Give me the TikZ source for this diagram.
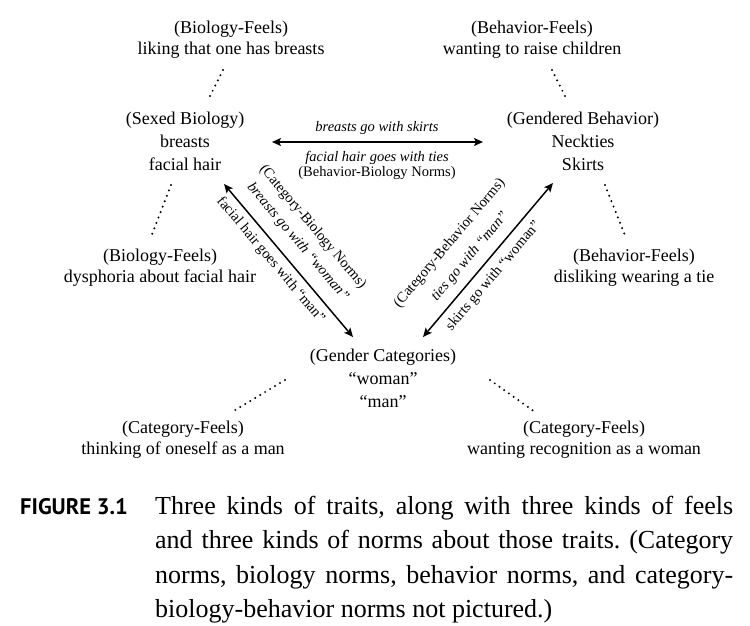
\documentclass[tikz,border=0pt]{standalone}
\usepackage{fontspec}
\setmainfont{Liberation Serif}
\newfontfamily\figfont{PT Sans}
\usetikzlibrary{arrows.meta}
\frenchspacing
\begin{document}
\begin{tikzpicture}[x=1pt,y=-1pt,
  trait/.style={align=center, font=\fontsize{18}{23}\selectfont, inner sep=0pt},
  feel/.style={align=center, font=\fontsize{18}{21}\selectfont, inner sep=0pt},
  lbl/.style={align=center, font=\fontsize{14.5}{15}\selectfont, inner sep=0pt},
  ilbl/.style={lbl, font=\fontsize{14.5}{15}\selectfont\itshape},
  norm/.style={line width=1.5pt, {Stealth[length=9pt,width=8pt,inset=2pt]}-{Stealth[length=9pt,width=8pt,inset=2pt]}},
  dots/.style={line width=2.2pt, line cap=round, dash pattern=on 0pt off 5.8pt}]
\useasboundingbox (0,0) rectangle (750,625);

% traits
\node[trait] (sb) at (185,141) {(Sexed Biology)\\breasts\\facial hair};
\node[trait] (gb) at (583,141) {(Gendered Behavior)\\Neckties\\Skirts};
\node[trait] (gc) at (383,378) {(Gender Categories)\\“woman”\\“man”};

% feels
\node[feel] (f1) at (231,40) {(Biology-Feels)\\liking that one has breasts};
\node[feel] (f2) at (532,40) {(Behavior-Feels)\\wanting to raise children};
\node[feel] (f3) at (160,268) {(Biology-Feels)\\dysphoria about facial hair};
\node[feel] (f4) at (634,268) {(Behavior-Feels)\\disliking wearing a tie};
\node[feel] (f5) at (183,440) {(Category-Feels)\\thinking of oneself as a man};
\node[feel] (f6) at (584,440) {(Category-Feels)\\wanting recognition as a woman};

% connector ends
\coordinate (sbR) at (272,142);
\coordinate (gbL) at (483,142);
\coordinate (sbD) at (224,184);
\coordinate (gcL) at (353,337);
\coordinate (gcR) at (423,337);
\coordinate (gbD) at (553,183);

\coordinate (t1a) at (223,70);  \coordinate (t1b) at (209,98);
\coordinate (t2a) at (552,70);  \coordinate (t2b) at (566,98);
\coordinate (t3a) at (171,185); \coordinate (t3b) at (151,237);
\coordinate (t4a) at (605,185); \coordinate (t4b) at (626,238);
\coordinate (t5a) at (285,380); \coordinate (t5b) at (232,412);
\coordinate (t6a) at (490,380); \coordinate (t6b) at (535,412);

% norms
\draw[norm] (sbR) -- (gbL);
\draw[norm] (sbD) -- (gcL);
\draw[norm] (gcR) -- (gbD);

% feels links
\draw[dots] (t1a) -- (t1b);
\draw[dots] (t2a) -- (t2b);
\draw[dots] (t3a) -- (t3b);
\draw[dots] (t4a) -- (t4b);
\draw[dots] (t5a) -- (t5b);
\draw[dots] (t6a) -- (t6b);

% horizontal labels
\node[ilbl] (h1) at (377,128) {breasts go with skirts};
\node[ilbl] (h2) at (377,158) {facial hair goes with ties};
\node[lbl]  (h3) at (377,173) {(Behavior-Biology Norms)};

% left diagonal labels
\node[lbl, rotate=-49.86]  (l1) at (312.7,227.1) {(Category-Biology Norms)};
\node[ilbl, rotate=-49.86] (l2) at (297.8,242.1) {breasts go with “woman”};
\node[lbl, rotate=-49.86]  (l3) at (270.5,260.0) {facial hair goes with “man”};

% right diagonal labels
\node[lbl, rotate=49.8]  (r1) at (449.8,243.2) {(Category-Behavior Norms)};
\node[ilbl, rotate=49.8] (r2) at (470.1,256.4) {ties go with “man”};
\node[lbl, rotate=49.8]  (r3) at (493.5,276.1) {skirts go with “woman”};

% caption
\node[anchor=base west, inner sep=0pt, font=\figfont\bfseries\fontsize{22.5}{26}\selectfont] (fig) at (20,514) {FIGURE 3.1};
\node[anchor=base west, inner sep=0pt] (cap) at (155,514) {\parbox[t]{578pt}{\fontsize{26}{34.5}\selectfont\tolerance=10000\parindent=0pt
Three kinds of traits, along with three kinds of feels\linebreak
and three kinds of norms about those traits. (Category\linebreak
norms, biology norms, behavior norms, and category-\linebreak
biology-behavior norms not pictured.)}};
\end{tikzpicture}
\end{document}
